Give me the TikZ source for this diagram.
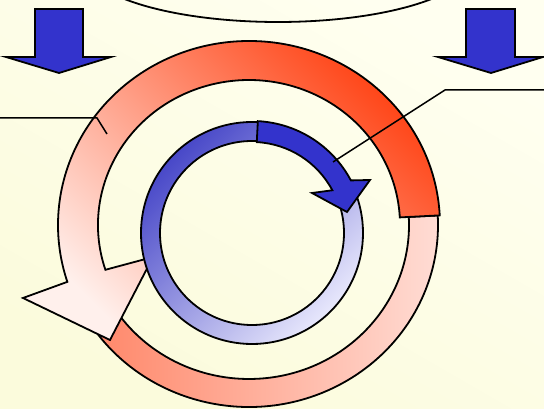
\documentclass[tikz,border=0pt]{standalone}
\usetikzlibrary{calc}
\definecolor{bgtop}{HTML}{FFFFF0}
\definecolor{bgbot}{HTML}{FBFBDC}
\definecolor{blk}{HTML}{3333CC}
\definecolor{orng}{HTML}{FF4416}
\definecolor{palepink}{HTML}{FFF0EC}
\definecolor{salmon}{HTML}{FF8668}
\definecolor{lightpink}{HTML}{FFDDD5}
\definecolor{ringdark}{HTML}{4848C8}
\definecolor{ringlight}{HTML}{E8E8FC}
\tikzset{
  outl/.style={draw=black, line width=1.8pt, line join=miter},
  blockarrow/.style={outl, fill=blk},
  leader/.style={draw=black, line width=1.5pt},
}
\begin{document}
\begin{tikzpicture}[x=1pt,y=1pt]
\useasboundingbox (0,0) rectangle (544,409);
\shade[top color=bgtop, bottom color=bgbot, shading angle=-30] (0,0) rectangle (544,409);
\clip (0,0) rectangle (544,409);
\coordinate (C) at (249,184);
\coordinate (B) at (252,176);
% top ellipse
\draw[line width=1.8pt] (278,447) ellipse [x radius=195, y radius=60];
% top block arrows
\path[blockarrow] (35,400) -- (83,400) -- (83,352) -- (111,352) -- (59,336) -- (6,352) -- (35,352) -- cycle;
\path[blockarrow] (466,400) -- (515,400) -- (515,352) -- (543,352) -- (491,336) -- (438,352) -- (466,352) -- cycle;
% pink lower arc
\shadedraw[outl, left color=salmon, right color=lightpink]
  ($(C)+(212:189 and 182)$) arc[start angle=212, end angle=363, x radius=189, y radius=182]
  -- ($(C)+(3:160 and 154)$) arc[start angle=363, end angle=212, x radius=160, y radius=154] -- cycle;
% big outer arrow
\shadedraw[outl, top color=orng, bottom color=palepink, shading angle=-45]
  ($(C)+(3:191 and 184)$) arc[start angle=3, end angle=198, x radius=191, y radius=184]
  -- (23,111) -- (110,69) -- (153,152)
  -- ($(C)+(198:151 and 145)$) arc[start angle=198, end angle=3, x radius=151, y radius=145] -- cycle;
% blue ring
\shadedraw[outl, even odd rule, top color=ringdark, bottom color=ringlight, shading angle=45]
  (B) circle[radius=111] (B) circle[radius=92];
% blue arrow
\path[outl, fill=blk]
  ($(B)+(87:112)$) arc[start angle=87, end angle=28, radius=112]
  -- (370,229) -- (347,197) -- (312,216)
  -- ($(B)+(28:91)$) arc[start angle=28, end angle=87, radius=91] -- cycle;
% leader lines
\coordinate (l0) at (0,291);
\coordinate (l1) at (97,291);
\coordinate (l2) at (107,275);
\coordinate (r0) at (544,319);
\coordinate (r1) at (445,319);
\coordinate (r2) at (333,247);
\draw[leader] (l0) -- (l1) -- (l2);
\draw[leader] (r0) -- (r1) -- (r2);
\end{tikzpicture}
\end{document}
